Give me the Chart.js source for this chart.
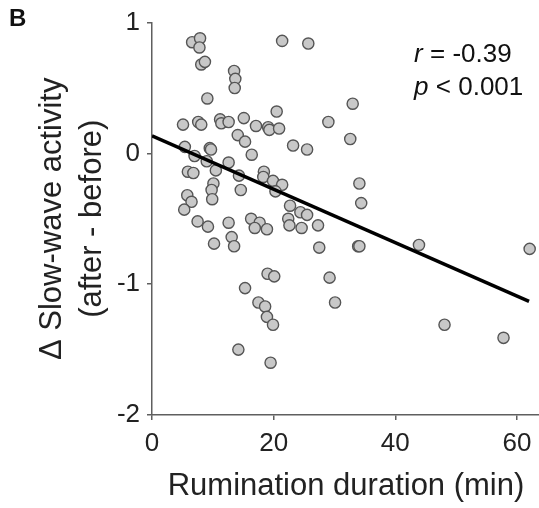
<!DOCTYPE html>
<html>
<head>
<meta charset="utf-8">
<script src="https://cdn.jsdelivr.net/npm/chart.js@4.4.0/dist/chart.umd.min.js"></script>
<style>
  html, body { margin: 0; padding: 0; background: #fff; overflow: hidden; }
  #clip { width: 539px; height: 508px; overflow: hidden; }
  #wrap { width: 547px; height: 508px; position: relative; }
</style>
</head>
<body>
<div id="clip"><div id="wrap"><canvas id="scatter"></canvas></div></div>
<script>
// values (minutes, delta SWA)
const rumination = [
  6.6, 7.9, 7.8, 8.1, 8.7, 13.5, 13.7, 13.6, 9.1, 5.1,
  7.6, 8.1, 11.2, 11.4, 12.6, 15.1, 17.1, 19.1, 19.3, 20.9,
  20.5, 21.4, 25.7, 33.0, 29.0, 14.1, 15.3, 5.4, 9.5, 9.7,
  16.4, 23.2, 25.5, 32.6, 7.0, 9.0, 12.6, 5.9, 6.8, 10.5,
  14.3, 18.4, 18.3, 19.9, 21.4, 20.3, 10.1, 9.8, 9.9, 14.6,
  5.8, 6.5, 5.3, 34.1, 34.4, 22.7, 24.4, 25.5, 22.4, 22.6,
  24.6, 27.3, 7.5, 9.2, 12.6, 16.3, 17.7, 16.9, 18.9, 10.2,
  13.1, 13.5, 27.5, 33.9, 34.1, 43.9, 62.1, 19.0, 20.1, 29.2,
  15.3, 17.5, 18.6, 18.9, 19.9, 30.1, 48.1, 57.8, 14.2, 19.5
];
const swaChange = [
  0.85, 0.88, 0.81, 0.68, 0.70, 0.63, 0.57, 0.50, 0.42, 0.22,
  0.24, 0.22, 0.26, 0.23, 0.24, 0.27, 0.21, 0.20, 0.18, 0.19,
  0.32, 0.86, 0.84, 0.38, 0.24, 0.14, 0.09, 0.05, 0.04, 0.03,
  -0.01, 0.06, 0.03, 0.11, -0.02, -0.06, -0.07, -0.14, -0.15, -0.13,
  -0.17, -0.14, -0.18, -0.21, -0.24, -0.29, -0.23, -0.28, -0.35, -0.28,
  -0.32, -0.37, -0.43, -0.23, -0.38, -0.40, -0.45, -0.47, -0.50, -0.55,
  -0.57, -0.55, -0.52, -0.56, -0.53, -0.50, -0.53, -0.57, -0.58, -0.69,
  -0.64, -0.71, -0.72, -0.71, -0.71, -0.70, -0.73, -0.92, -0.94, -0.95,
  -1.03, -1.14, -1.17, -1.25, -1.31, -1.14, -1.31, -1.41, -1.50, -1.60
];

// regression line end points
const fitX = [0, 62];
const fitY = [0.134, -1.131];

const xTicks = [0, 20, 40, 60];
const yTicks = [-2, -1, 0, 1];

// italic symbol + rest of the text
const statText = [['r', ' = -0.39'], ['p', ' < 0.001']];
const statPos = { x: 43.1, y: 0.70 };

const FONT = "'Liberation Sans', Arial, sans-serif";
const axisGrey = '#5f5f5f';

const annotate = {
  id: 'annotate',
  afterDraw(chart) {
    const ctx = chart.ctx;
    const xs = chart.scales.x, ys = chart.scales.y;
    ctx.save();
    ctx.fillStyle = '#111';
    ctx.textBaseline = 'alphabetic';
    ctx.textAlign = 'left';
    let x0 = xs.getPixelForValue(statPos.x);
    let y0 = ys.getPixelForValue(statPos.y);
    statText.forEach((parts, i) => {
      const y = y0 + i * 33;
      ctx.font = 'italic 26px ' + FONT;
      ctx.fillText(parts[0], x0, y);
      const w = ctx.measureText(parts[0]).width;
      ctx.font = '26px ' + FONT;
      ctx.fillText(parts[1], x0 + w, y);
    });
    // panel letter
    ctx.font = 'bold 24px ' + FONT;
    ctx.fillText('B', 9, 26);
    ctx.restore();
  }
};

const points = rumination.map((v, i) => ({ x: v, y: swaChange[i] }));
const fitLine = fitX.map((v, i) => ({ x: v, y: fitY[i] }));

new Chart(document.getElementById('scatter'), {
  type: 'scatter',
  data: {
    datasets: [
      {
        label: 'fit',
        data: fitLine,
        showLine: true,
        borderColor: '#000',
        borderWidth: 3.5,
        pointRadius: 0,
        order: 0
      },
      {
        label: 'subjects',
        data: points,
        pointRadius: 5.6,
        pointBorderWidth: 1.4,
        pointBackgroundColor: '#c8c8c8',
        pointBorderColor: '#555',
        order: 1
      }
    ]
  },
  options: {
    responsive: true,
    maintainAspectRatio: false,
    animation: false,
    layout: { padding: { top: 14, right: 0, left: 0, bottom: 0 } },
    plugins: {
      legend: { display: false },
      tooltip: { enabled: false }
    },
    scales: {
      x: {
        min: 0,
        max: 63.8,
        afterBuildTicks: (scale) => { scale.ticks = xTicks.map(v => ({ value: v })); },
        afterFit: (scale) => { scale.height = 93; },
        border: { display: true, color: axisGrey, width: 1.5 },
        grid: { drawOnChartArea: false, color: axisGrey, tickLength: 5, lineWidth: 1.5 },
        ticks: { color: '#222', padding: 8, font: { family: FONT, size: 26 } },
        title: {
          display: true,
          text: 'Rumination duration (min)',
          color: '#222',
          font: { family: FONT, size: 31 },
          padding: { top: 0, bottom: 3 }
        }
      },
      y: {
        min: -2,
        max: 1,
        afterBuildTicks: (scale) => { scale.ticks = yTicks.map(v => ({ value: v })); },
        afterFit: (scale) => { scale.width = 152; },
        border: { display: true, color: axisGrey, width: 1.5 },
        grid: { drawOnChartArea: false, color: axisGrey, tickLength: 5, lineWidth: 1.5 },
        ticks: { color: '#222', padding: 7, font: { family: FONT, size: 26 } },
        title: {
          display: true,
          text: ['\u0394 Slow-wave activity', '(after - before)'],
          color: '#222',
          font: { family: FONT, size: 31, lineHeight: 1.28 },
          padding: { top: 33, bottom: 0 }
        }
      }
    }
  },
  plugins: [annotate]
});
</script>
</body>
</html>
